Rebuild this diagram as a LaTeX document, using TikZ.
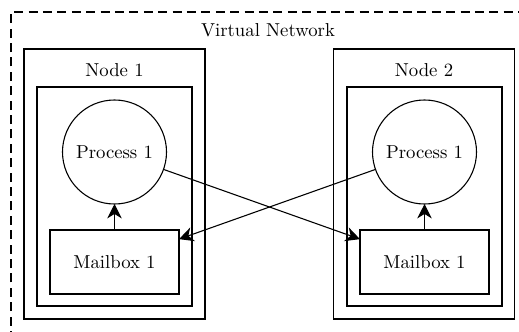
\documentclass[tikz,border=0pt]{standalone}
\usetikzlibrary{arrows.meta}
\begin{document}
\begin{tikzpicture}[x={(0.5556pt,0)}, y={(0,-0.5556pt)},
  every node/.style={font=\fontsize{10.4}{12.5}\selectfont},
  box/.style={draw, rectangle, inner sep=0pt, outer sep=0pt, line width=0.6pt},
  outerbox/.style={box, minimum width=181*0.5556pt, minimum height=270*0.5556pt},
  innerbox/.style={box, minimum width=155*0.5556pt, minimum height=219*0.5556pt},
  mailbox/.style={box, minimum width=129*0.5556pt, minimum height=64*0.5556pt},
  proc/.style={draw, circle, inner sep=0pt, outer sep=0pt, line width=0.6pt, minimum size=104*0.5556pt},
  conn/.style={-{Stealth[length=8pt,width=8pt,inset=2.5pt]}, line width=0.6pt},
  lbl/.style={inner sep=0pt}
]
\useasboundingbox (0,0) rectangle (519,332);
\begin{scope}
\clip (0,0) rectangle (519,332);
\draw[line width=0.6pt, dash pattern=on 5pt off 3pt] (11,340) -- (11,12) -- (530,12);
\end{scope}
\node[lbl] (vn) at (268,30) {Virtual Network};
% Node 1
\node[outerbox] (n1) at (114.5,184) {};
\node[lbl] (n1l) at (114.5,70) {Node 1};
\node[innerbox] (i1) at (114.5,196.5) {};
\node[proc] (p1) at (114.5,152) {Process 1};
\node[mailbox] (m1) at (114.5,262) {Mailbox 1};
% Node 2
\node[outerbox] (n2) at (424,184) {};
\node[lbl] (n2l) at (424,70) {Node 2};
\node[innerbox] (i2) at (424.5,196.5) {};
\node[proc] (p2) at (424.5,152) {Process 1};
\node[mailbox] (m2) at (424.5,262) {Mailbox 1};
% connectors
\draw[conn] (m1) -- (p1);
\draw[conn] (m2) -- (p2);
\draw[conn] (p1) -- (m2);
\draw[conn] (p2) -- (m1);
\end{tikzpicture}
\end{document}
